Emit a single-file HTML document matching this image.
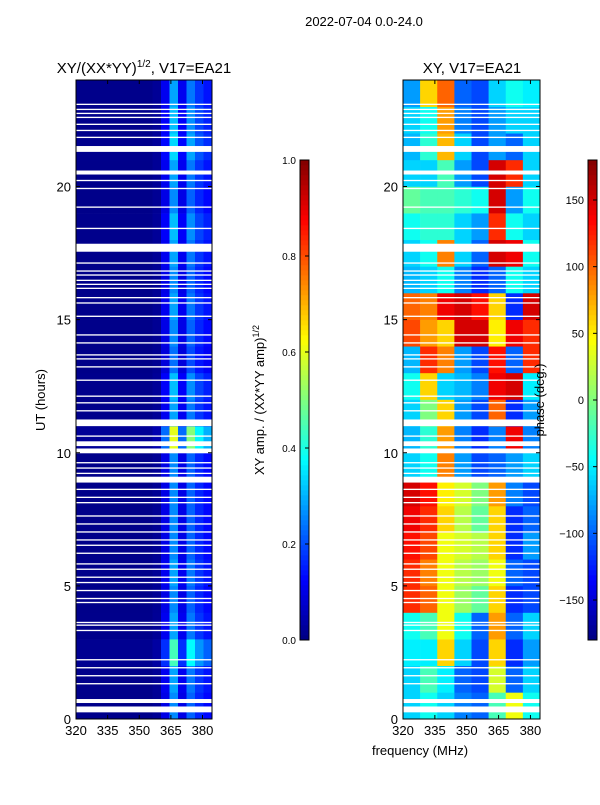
<!DOCTYPE html>
<html><head><meta charset="utf-8">
<style>
body{margin:0;background:#fff;font-family:"Liberation Sans",sans-serif;}
svg text{font-family:"Liberation Sans",sans-serif;}
</style></head>
<body>
<svg id="chart" width="600" height="800" xmlns="http://www.w3.org/2000/svg">
<text x="364" y="26" font-size="13" text-anchor="middle">2022-07-04 0.0-24.0</text>
<text x="144" y="73" font-size="15" text-anchor="middle">XY/(XX*YY)<tspan dy="-6" font-size="10">1/2</tspan><tspan dy="6">, V17=EA21</tspan></text>
<text x="472" y="73" font-size="15" text-anchor="middle">XY, V17=EA21</text>
<text x="45" y="400" font-size="13" text-anchor="middle" transform="rotate(-90 45 400)">UT (hours)</text>
<text x="420" y="755" font-size="13" text-anchor="middle">frequency (MHz)</text>
<text x="264" y="400" font-size="13" text-anchor="middle" transform="rotate(-90 264 400)">XY amp. / (XX*YY amp)<tspan dy="-5" font-size="9">1/2</tspan></text>
<g id="layer"></g>
<text x="544" y="400" font-size="13" text-anchor="middle" transform="rotate(-90 544 400)">phase (deg.)</text>
</svg>
<script>
const ampCols=[0.01,0.01,0.01,0.01,0.01,0.01,0.01,0.01,0.01,0.02,0.1,0.26,0.1,0.22,0.16,0.13];
const ampHours=[1,1.1,1.7,1.1,1,1.1,1,1,1,1,2.3,1.1,1.2,0.9,1,1.1,1,1.1,1.2,1,1.1,1.3,1.2,1.1];
const phase=[
[-60,-40,-60,-90,-100,-20,40,-40],
[-60,-20,-50,-100,-110,30,-100,-60],
[-50,-50,60,-60,-110,60,-120,-80],
[-40,-20,40,-40,-100,80,-100,-60],
[120,100,40,10,-10,60,-120,-110],
[120,90,40,20,10,40,-100,-110],
[130,110,40,30,20,60,-120,-80],
[140,120,60,20,-10,60,-120,-100],
[150,130,50,30,0,80,-90,-110],
[-60,-40,90,-80,-110,-100,-80,-60],
[-70,-30,80,-90,-120,-90,140,-90],
[-60,0,60,-80,-110,100,-120,-80],
[-40,60,-60,-70,-90,140,150,-50],
[-70,120,90,-80,-110,130,-100,120],
[110,80,60,150,150,50,140,120],
[100,90,140,150,130,60,-120,150],
[-70,-60,-40,-90,-120,-100,-40,-60],
[-60,-40,90,-60,-100,150,140,-40],
[-40,-30,-30,-60,-80,120,-40,-60],
[-10,-20,-20,-30,-40,150,-80,-40],
[-60,-60,-20,-80,-110,150,120,-60],
[-70,-30,70,-60,-110,-80,-100,-60],
[-60,-40,80,-90,-110,-80,-60,-60],
[-80,60,100,-100,-110,-60,-40,-50]];
const gapStart=[21.30,20.45,17.55,11.0,10.25,9.98,8.88,0.6,0.25,23.06,22.87,22.72,22.57,22.31,22.08,21.82,20.2,19.9,19.2,18.4,17.1,16.8,16.65,16.45,16.3,16.15,15.8,15.6,15.1,14.4,14.1,13.65,13.5,13.2,12.7,12.1,11.85,11.55,11.1,10.6,9.6,9.4,9.2,8.6,8.3,8.1,7.6,7.3,7.0,6.7,6.5,6.2,5.8,5.6,5.3,5.1,4.8,4.5,4.35,3.6,3.5,3.3,2.2,1.9,1.6,1.3];
const gapWidth=[0.22,0.15,0.3,0.25,0.18,0.18,0.22,0.15,0.22];
const xTicks=[320,335,350,365,380];
const yTicks=[0,5,10,15,20];
const ampTicks=[0,0.2,0.4,0.6,0.8,1.0];
const phaseTicks=[-150,-100,-50,0,50,100,150];
const fMin=320,fMax=384.5,hMin=0,hMax=24;
const NS="http://www.w3.org/2000/svg";
const layer=document.getElementById('layer');
function jet(v){v=Math.max(0,Math.min(1,v));
 const c=x=>Math.round(255*Math.max(0,Math.min(1,x)));
 return `rgb(${c(1.5-Math.abs(4*v-3))},${c(1.5-Math.abs(4*v-2))},${c(1.5-Math.abs(4*v-1))})`;}
function mk(tag,at,parent){const e=document.createElementNS(NS,tag);for(const k in at)e.setAttribute(k,at[k]);(parent||layer).appendChild(e);return e;}
const panels=[{x0:76,x1:212,kind:'amp'},{x0:403,x1:540,kind:'phase'}];
const yTop=80,yBot=719;
const yScale=h=>yBot-(h-hMin)/(hMax-hMin)*(yBot-yTop);
panels.forEach(p=>{
 const xs=f=>p.x0+(f-fMin)/(fMax-fMin)*(p.x1-p.x0);
 const g=mk('g',{});
 
 
 for(let h=0;h<24;h++){
  const ncol=p.kind==='amp'?ampCols.length:phase[h].length;
  const w=(fMax-fMin)/ncol;
  for(let c=0;c<ncol;c++){
   const v=p.kind==='amp'?Math.min(1,ampCols[c]*ampHours[h]):(phase[h][c]+180)/360;
   const x=xs(fMin+c*w),x2=xs(fMin+(c+1)*w);
   const r=mk('rect',{x:x,y:yScale(h+1),width:x2-x+0.3,height:yScale(h)-yScale(h+1)+0.3,fill:jet(v)},g);
   
   
  }
 }
 gapStart.forEach((s,i)=>{
  const wd=i<gapWidth.length?gapWidth[i]:0.05;
  const r=mk('rect',{x:p.x0,y:yScale(s+wd),width:p.x1-p.x0,height:Math.max(1,yScale(s)-yScale(s+wd)),fill:'#fff'},g);
  
  
 });
 const fr=mk('rect',{x:p.x0,y:yTop,width:p.x1-p.x0,height:yBot-yTop,fill:'none',stroke:'#000','stroke-width':1});
 
 
 xTicks.forEach(t=>{const x=xs(t);
  mk('line',{x1:x,x2:x,y1:yBot,y2:yBot-4,stroke:'#000'});mk('line',{x1:x,x2:x,y1:yTop,y2:yTop+4,stroke:'#000'});
  const tx=mk('text',{x:x,y:yBot+16,'font-size':13,'text-anchor':'middle'});tx.textContent=t;
  
  });
 yTicks.forEach(t=>{const y=yScale(t);
  mk('line',{x1:p.x0,x2:p.x0+4,y1:y,y2:y,stroke:'#000'});mk('line',{x1:p.x1,x2:p.x1-4,y1:y,y2:y,stroke:'#000'});
  const tx=mk('text',{x:p.x0-5,y:y+5,'font-size':13,'text-anchor':'end'});tx.textContent=t;
  
  });
});
const cbs=[{x:300,kind:'amp',ticks:ampTicks,min:0,max:1,fmt:t=>t.toFixed(1)},{x:588,kind:'phase',ticks:phaseTicks,min:-180,max:180,fmt:t=>t<0?'\u2212'+(-t):''+t}];
cbs.forEach(cb=>{
 const g=mk('g',{});
 
 
 for(let i=0;i<96;i++){mk('rect',{x:cb.x,y:640-(i+1)*5,width:9,height:5.3,fill:jet((i+0.5)/96)},g);}
 mk('rect',{x:cb.x,y:160,width:9,height:480,fill:'none',stroke:'#000'},g);
 cb.ticks.forEach(t=>{const y=640-(t-cb.min)/(cb.max-cb.min)*480;
  mk('line',{x1:cb.x+9,x2:cb.x+5,y1:y,y2:y,stroke:'#000'},g);
  const tx=mk('text',{x:cb.x-4,y:y+4,'font-size':cb.kind==='amp'?10:11,'text-anchor':'end'},g);tx.textContent=cb.fmt(t);
  
  });
});
</script>
</body></html>
